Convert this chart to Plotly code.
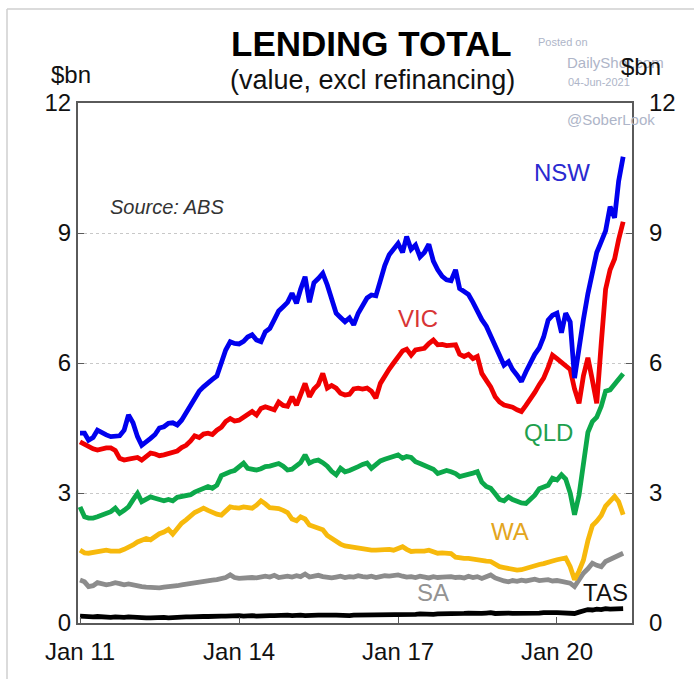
import pandas as pd
import plotly.graph_objects as go

# Monthly housing lending by state, $bn (Jan 2011 - Apr 2021)
months = pd.date_range("2011-01-01", "2021-04-01", freq="MS")

nsw = [
    4.38, 4.38, 4.22, 4.28, 4.45, 4.38, 4.34, 4.30, 4.30, 4.32, 4.45, 4.80,
    4.62, 4.30, 4.10, 4.20, 4.26, 4.35, 4.50, 4.53, 4.61, 4.62, 4.57, 4.68,
    4.85, 5.07, 5.20, 5.35, 5.45, 5.55, 5.62, 5.70, 6.00, 6.30, 6.49, 6.45,
    6.44, 6.50, 6.60, 6.65, 6.53, 6.49, 6.72, 6.80, 7.00, 7.20, 7.30, 7.40,
    7.61, 7.38, 7.70, 7.99, 7.40, 7.85, 7.95, 8.07, 7.80, 7.45, 7.15, 7.05,
    6.95, 7.04, 6.88, 7.15, 7.35, 7.50, 7.57, 7.55, 7.90, 8.25, 8.50, 8.65,
    8.76, 8.55, 8.92, 8.62, 8.72, 8.45, 8.55, 8.74, 8.35, 8.15, 8.00, 7.92,
    7.90, 8.15, 7.72, 7.65, 7.58, 7.40, 7.18, 7.00, 6.85, 6.62, 6.38, 6.15,
    5.95, 6.03, 5.85, 5.72, 5.57, 5.80, 6.00, 6.20, 6.35, 6.60, 6.99, 7.10,
    7.15, 6.70, 7.15, 6.95, 5.65, 6.40, 7.00, 7.60, 8.05, 8.55, 8.80, 9.05,
    9.61, 9.35, 10.20, 10.76,
]
vic = [
    4.18, 4.12, 4.07, 4.02, 3.99, 4.02, 4.04, 4.04, 3.98, 3.80, 3.76, 3.78,
    3.80, 3.82, 3.76, 3.85, 3.92, 3.90, 3.86, 3.88, 3.92, 3.95, 3.97, 4.05,
    4.10, 4.20, 4.32, 4.28, 4.36, 4.38, 4.35, 4.45, 4.52, 4.65, 4.72, 4.66,
    4.68, 4.75, 4.82, 4.88, 4.80, 4.95, 4.99, 4.95, 4.92, 5.10, 5.02, 5.00,
    5.22, 5.03, 5.30, 5.53, 5.22, 5.40, 5.50, 5.76, 5.42, 5.48, 5.42, 5.30,
    5.26, 5.28, 5.40, 5.42, 5.40, 5.42, 5.35, 5.19, 5.53, 5.72, 5.86, 6.00,
    6.15, 6.28, 6.32, 6.18, 6.30, 6.32, 6.34, 6.45, 6.53, 6.42, 6.43, 6.40,
    6.40, 6.42, 6.20, 6.15, 6.20, 6.10, 6.15, 5.76, 5.60, 5.45, 5.22, 5.10,
    5.03, 5.00, 4.98, 4.92, 4.88, 5.02, 5.15, 5.32, 5.50, 5.65, 5.90, 6.18,
    6.10, 6.02, 5.92, 5.85, 5.40, 5.07, 5.70, 6.12, 5.60, 5.07, 6.45, 7.70,
    8.15, 8.40, 8.85, 9.26,
]
qld = [
    2.68, 2.45, 2.42, 2.42, 2.45, 2.49, 2.52, 2.57, 2.65, 2.53, 2.60, 2.68,
    2.84, 2.99, 2.80, 2.86, 2.91, 2.88, 2.84, 2.82, 2.85, 2.82, 2.90, 2.92,
    2.94, 2.96, 3.02, 3.07, 3.12, 3.15, 3.11, 3.18, 3.40, 3.45, 3.49, 3.52,
    3.61, 3.69, 3.57, 3.55, 3.53, 3.56, 3.61, 3.62, 3.66, 3.68, 3.62, 3.53,
    3.55, 3.62, 3.70, 3.88, 3.69, 3.74, 3.76, 3.70, 3.62, 3.50, 3.42, 3.57,
    3.49, 3.52, 3.55, 3.61, 3.66, 3.69, 3.57, 3.65, 3.74, 3.78, 3.82, 3.86,
    3.88, 3.80, 3.84, 3.82, 3.72, 3.68, 3.64, 3.60, 3.55, 3.45, 3.50, 3.52,
    3.49, 3.45, 3.38, 3.40, 3.42, 3.46, 3.49, 3.25, 3.15, 3.11, 2.98, 2.85,
    2.82, 2.91, 2.85, 2.80, 2.77, 2.76, 2.85, 2.95, 3.10, 3.14, 3.18, 3.34,
    3.30, 3.42, 3.32, 3.00, 2.50, 2.95, 3.60, 4.40, 4.65, 4.75, 5.00, 5.35,
    5.38, 5.50, 5.65, 5.75,
]
wa = [
    1.68, 1.62, 1.61, 1.63, 1.65, 1.66, 1.68, 1.66, 1.65, 1.66, 1.70, 1.74,
    1.80, 1.87, 1.92, 1.95, 1.92, 2.00, 2.06, 2.10, 2.16, 2.05, 2.20, 2.30,
    2.38, 2.47, 2.55, 2.60, 2.65, 2.60, 2.54, 2.51, 2.49, 2.60, 2.68, 2.66,
    2.65, 2.68, 2.67, 2.65, 2.72, 2.82, 2.75, 2.66, 2.65, 2.64, 2.60, 2.55,
    2.40, 2.36, 2.45, 2.40, 2.26, 2.22, 2.20, 2.15, 2.02, 1.95, 1.86, 1.82,
    1.78, 1.76, 1.74, 1.72, 1.70, 1.69, 1.68, 1.68, 1.69, 1.68, 1.70, 1.68,
    1.72, 1.76, 1.70, 1.65, 1.66, 1.65, 1.66, 1.68, 1.65, 1.61, 1.62, 1.61,
    1.60, 1.52, 1.50, 1.49, 1.49, 1.47, 1.45, 1.44, 1.43, 1.42, 1.36, 1.30,
    1.28, 1.26, 1.24, 1.22, 1.23, 1.26, 1.30, 1.34, 1.35, 1.37, 1.39, 1.43,
    1.46, 1.48, 1.50, 1.30, 1.00, 1.20, 1.45, 1.90, 2.25, 2.35, 2.48, 2.70,
    2.82, 2.92, 2.80, 2.50,
]
sa = [
    0.99, 0.95, 0.84, 0.86, 0.93, 0.90, 0.88, 0.90, 0.93, 0.91, 0.88, 0.90,
    0.87, 0.86, 0.84, 0.83, 0.82, 0.80, 0.81, 0.83, 0.84, 0.83, 0.86, 0.88,
    0.90, 0.91, 0.93, 0.95, 0.96, 0.97, 0.99, 1.00, 1.03, 1.05, 1.11, 1.05,
    1.03, 1.04, 1.03, 1.05, 1.04, 1.06, 1.08, 1.06, 1.10, 1.05, 1.07, 1.08,
    1.06, 1.09, 1.07, 1.13, 1.06, 1.08, 1.10, 1.07, 1.05, 1.04, 1.06, 1.08,
    1.05, 1.07, 1.06, 1.09, 1.07, 1.06, 1.08, 1.05, 1.07, 1.09, 1.08, 1.10,
    1.11, 1.08, 1.06, 1.07, 1.05, 1.08, 1.06, 1.04, 1.07, 1.05, 1.06, 1.07,
    1.07, 1.05, 1.06, 1.04, 1.08, 1.05, 1.07, 1.03, 1.06, 1.11, 1.04, 1.00,
    0.97, 0.95, 0.98, 0.96, 0.99, 0.97, 0.99, 1.01, 0.98, 0.99, 1.00, 0.97,
    0.98, 0.96, 0.95, 0.92, 0.84, 1.00, 1.15, 1.25, 1.38, 1.33, 1.30, 1.42,
    1.47, 1.53, 1.56, 1.61,
]
tas = [
    0.16, 0.15, 0.15, 0.14, 0.15, 0.14, 0.14, 0.13, 0.14, 0.13, 0.13, 0.14,
    0.13, 0.12, 0.13, 0.12, 0.12, 0.13, 0.12, 0.13, 0.12, 0.13, 0.13, 0.14,
    0.14, 0.14, 0.15, 0.14, 0.15, 0.15, 0.16, 0.15, 0.16, 0.16, 0.17, 0.16,
    0.17, 0.16, 0.17, 0.17, 0.16, 0.17, 0.18, 0.17, 0.17, 0.18, 0.17, 0.18,
    0.17, 0.18, 0.18, 0.17, 0.18, 0.19, 0.18, 0.18, 0.17, 0.18, 0.18, 0.17,
    0.18, 0.17, 0.18, 0.18, 0.19, 0.18, 0.18, 0.19, 0.19, 0.18, 0.19, 0.20,
    0.19, 0.20, 0.19, 0.20, 0.20, 0.21, 0.20, 0.21, 0.20, 0.21, 0.21, 0.20,
    0.21, 0.22, 0.21, 0.22, 0.23, 0.22, 0.23, 0.22, 0.23, 0.24, 0.22, 0.23,
    0.22, 0.23, 0.22, 0.22, 0.21, 0.22, 0.23, 0.22, 0.23, 0.24, 0.23, 0.24,
    0.24, 0.23, 0.24, 0.23, 0.22, 0.25, 0.29, 0.31, 0.30, 0.32, 0.31, 0.33,
    0.32, 0.33, 0.34, 0.33,
]

y_ticks = [0, 3, 6, 9, 12]
x_ticks = ["2011-01-01", "2014-01-01", "2017-01-01", "2020-01-01"]
x_tick_labels = ["Jan 11", "Jan 14", "Jan 17", "Jan 20"]

FONT = "Liberation Sans, Arial, sans-serif"
FRAME = "#5a5a5a"
MARK = "#aeb5c8"

series = [
    ("SA", sa, "#8c8c8c"),
    ("WA", wa, "#f7b90c"),
    ("QLD", qld, "#0ca84a"),
    ("VIC", vic, "#f00000"),
    ("NSW", nsw, "#0000ee"),
]

fig = go.Figure()
for name, vals, col in series:
    fig.add_trace(go.Scatter(x=months, y=vals, name=name, mode="lines",
                             line=dict(color=col, width=4.8), yaxis="y"))
# TAS on the right-hand axis (same scale) so that axis is rendered
fig.add_trace(go.Scatter(x=months, y=tas, name="TAS", mode="lines",
                         line=dict(color="#000000", width=4.8), yaxis="y2"))

L, R, T, B = 78, 62, 103, 56
W, H = 694, 679
pw, ph = W - L - R, H - T - B


def px(x):
    return (x - L) / pw


def py(y):
    return (H - B - y) / ph


annotations = [
    dict(text="<b>LENDING TOTAL</b>", x=px(371), y=py(44), font=dict(size=35, color="#000")),
    dict(text="(value, excl refinancing)", x=px(372), y=py(80), font=dict(size=27, color="#111")),
    dict(text="Posted on", x=px(536), y=py(42), xanchor="left", font=dict(size=11, color=MARK)),
    dict(text="DailyShot.com", x=px(565), y=py(62), xanchor="left", font=dict(size=15, color=MARK)),
    dict(text="04-Jun-2021", x=px(566), y=py(82), xanchor="left", font=dict(size=11, color=MARK)),
    dict(text="@SoberLook", x=px(565), y=py(119), xanchor="left", font=dict(size=15, color=MARK)),
    dict(text="$bn", x=px(71), y=py(75), font=dict(size=24, color="#111")),
    dict(text="$bn", x=px(641), y=py(66), font=dict(size=24, color="#111")),
    dict(text="<i>Source: ABS</i>", x=px(108), y=py(207), xanchor="left", font=dict(size=20, color="#333")),
    dict(text="NSW", x=px(562), y=py(172), font=dict(size=24, color="#2a2ad0")),
    dict(text="VIC", x=px(418), y=py(318), font=dict(size=24, color="#d83535")),
    dict(text="QLD", x=px(548), y=py(432), font=dict(size=24, color="#1ea04e")),
    dict(text="WA", x=px(510), y=py(531), font=dict(size=24, color="#e3a520")),
    dict(text="SA", x=px(433), y=py(592), font=dict(size=24, color="#939393")),
    dict(text="TAS", x=px(605), y=py(592), font=dict(size=24, color="#111")),
]
for a in annotations:
    a.update(xref="paper", yref="paper", showarrow=False, yanchor="middle",
             font=dict(family=FONT, **a["font"]))
    a.setdefault("xanchor", "center")

# Light border around the whole image (top and left edges)
shapes = [
    dict(type="line", xref="paper", yref="paper", x0=px(7), x1=px(W + 5), y0=py(9), y1=py(9),
         line=dict(color="#cfcfcf", width=1.5)),
    dict(type="line", xref="paper", yref="paper", x0=px(7), x1=px(7), y0=py(9), y1=py(H + 5),
         line=dict(color="#cfcfcf", width=1.5)),
]

fig.update_layout(
    width=W, height=H,
    margin=dict(l=L, r=R, t=T, b=B),
    paper_bgcolor="white", plot_bgcolor="white",
    showlegend=False,
    font=dict(family=FONT, size=24, color="#111"),
    annotations=annotations,
    shapes=shapes,
    xaxis=dict(
        type="date", range=["2010-12-18", "2021-06-01"],
        tickvals=x_ticks, ticktext=x_tick_labels,
        ticks="inside", ticklen=6, tickwidth=1, tickcolor=FRAME,
        showgrid=False, zeroline=False,
        showline=True, linecolor=FRAME, linewidth=2, mirror=True,
        tickfont=dict(size=24, color="#111"),
        ticklabelstandoff=6,
    ),
    yaxis=dict(
        range=[0, 12], tickvals=y_ticks,
        ticks="inside", ticklen=6, tickwidth=1, tickcolor=FRAME,
        showgrid=True, gridcolor="#c8c8c8", griddash="dot", gridwidth=1,
        zeroline=False,
        showline=True, linecolor=FRAME, linewidth=2, mirror=True,
        tickfont=dict(size=24, color="#111"),
    ),
    yaxis2=dict(
        range=[0, 12], tickvals=y_ticks, overlaying="y", side="right",
        ticks="inside", ticklen=6, tickwidth=1, tickcolor=FRAME,
        showgrid=False, zeroline=False, showline=False,
        tickfont=dict(size=24, color="#111"),
        ticklabelstandoff=16,
    ),
)

fig.write_html("out.html")
